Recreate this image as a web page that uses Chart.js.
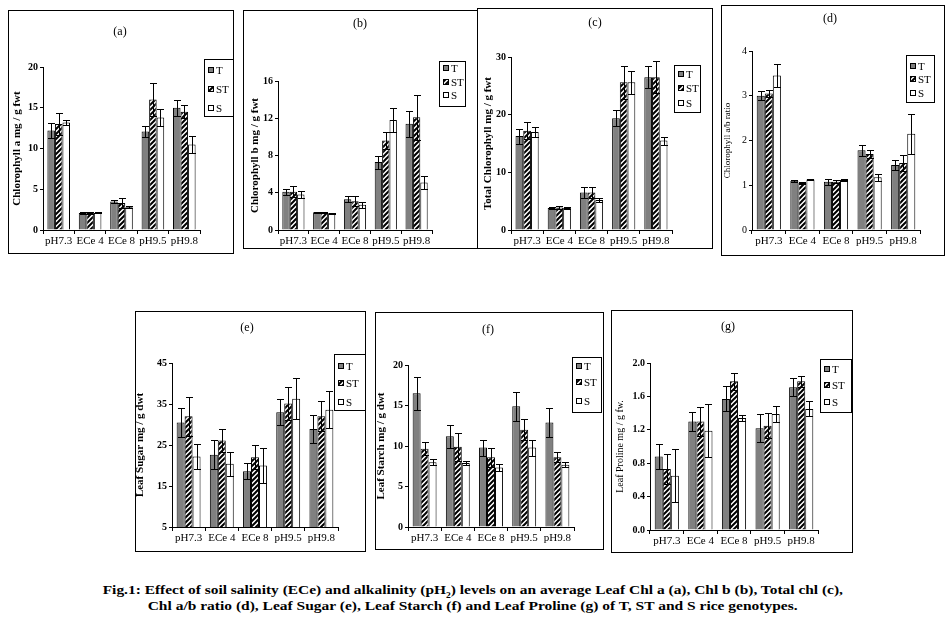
<!DOCTYPE html>
<html>
<head>
<meta charset="utf-8">
<script src="https://cdn.jsdelivr.net/npm/chart.js@4.4.1/dist/chart.umd.min.js"></script>
<style>
  body { margin: 0; background: #fff; width: 945px; height: 623px; position: relative; overflow: hidden; font-family: "Liberation Serif", serif; }
  .panel { position: absolute; border: 1px solid #000; box-sizing: border-box; }
  .panel canvas { position: absolute; left: 0; top: 0; }
  .cap { position: absolute; left: 0; width: 945px; text-align: center; font-weight: bold; font-size: 13px; white-space: nowrap; }
  .cap span { display: inline-block; transform-origin: center; }
</style>
</head>
<body>
<div class="cap" style="top:582px"><span id="cap1">Fig.1: Effect of soil salinity (ECe) and alkalinity (pH<sub style="font-size:8px">2</sub>) levels on an average Leaf Chl a (a), Chl b (b), Total chl (c),</span></div>
<div class="cap" style="top:598px"><span id="cap2">Chl a/b ratio (d), Leaf Sugar (e), Leaf Starch (f) and Leaf Proline (g) of T, ST and S rice genotypes.</span></div>
<script>
const groups = ['pH7.3', 'ECe 4', 'ECe 8', 'pH9.5', 'pH9.8'];
const genotypes = ['T', 'ST', 'S'];

// (a) chlorophyll a, mg / g fwt
const chlA_T = [12.2, 2.1, 3.5, 12.1, 15.0];
const chlA_ST = [13.0, 2.1, 3.3, 16.0, 14.5];
const chlA_S = [13.2, 2.1, 2.8, 13.8, 10.5];
const chlA_T_se = [0.9, 0.1, 0.2, 0.7, 1.0];
const chlA_ST_se = [1.3, 0.1, 0.6, 2.0, 0.8];
const chlA_S_se = [0.3, 0.05, 0.1, 1.0, 1.0];
const chlA_ticks = [0, 5, 10, 15, 20];

// (b) chlorophyll b
const chlB_T = [4.1, 1.9, 3.3, 7.3, 11.4];
const chlB_ST = [4.1, 1.9, 3.1, 9.6, 12.1];
const chlB_S = [3.8, 1.8, 2.7, 11.8, 5.1];
const chlB_T_se = [0.3, 0.05, 0.3, 0.7, 1.4];
const chlB_ST_se = [0.6, 0.05, 0.5, 0.9, 2.4];
const chlB_S_se = [0.4, 0.05, 0.3, 1.3, 0.7];
const chlB_ticks = [0, 4, 8, 12, 16];

// (c) total chlorophyll
const chlT_T = [16.3, 3.8, 6.5, 19.4, 26.5];
const chlT_ST = [17.2, 3.9, 6.5, 25.6, 26.5];
const chlT_S = [17.0, 3.8, 5.2, 25.6, 15.5];
const chlT_T_se = [1.3, 0.2, 0.9, 1.4, 1.9];
const chlT_ST_se = [1.5, 0.3, 0.9, 2.8, 2.8];
const chlT_S_se = [0.8, 0.2, 0.4, 2.0, 0.7];
const chlT_ticks = [0, 10, 20, 30];

// (d) chl a/b ratio
const ratio_T = [3.0, 1.1, 1.08, 1.78, 1.45];
const ratio_ST = [3.05, 1.05, 1.08, 1.7, 1.5];
const ratio_S = [3.45, 1.13, 1.12, 1.18, 2.15];
const ratio_T_se = [0.1, 0.02, 0.07, 0.12, 0.12];
const ratio_ST_se = [0.07, 0.03, 0.04, 0.08, 0.18];
const ratio_S_se = [0.25, 0.02, 0.03, 0.08, 0.45];
const ratio_ticks = [0, 1, 2, 3, 4];

// (e) leaf sugar, mg / g dwt
const sugar_T = [30.5, 22.6, 18.6, 33.0, 28.9];
const sugar_ST = [32.0, 26.1, 22.0, 35.1, 32.0];
const sugar_S = [22.2, 20.4, 20.0, 36.3, 33.6];
const sugar_T_se = [3.5, 3.5, 2.0, 3.2, 3.3];
const sugar_ST_se = [4.7, 2.9, 2.9, 4.0, 3.7];
const sugar_S_se = [3.1, 2.9, 4.3, 5.0, 4.5];
const sugar_ticks = [5, 15, 25, 35, 45];

// (f) leaf starch
const starch_T = [16.5, 11.2, 9.8, 14.9, 12.9];
const starch_ST = [9.65, 9.9, 8.6, 12.0, 8.6];
const starch_S = [8.0, 7.9, 7.35, 9.8, 7.7];
const starch_T_se = [2.0, 1.4, 1.0, 1.8, 1.8];
const starch_ST_se = [0.8, 1.7, 1.2, 1.3, 0.6];
const starch_S_se = [0.35, 0.3, 0.45, 1.0, 0.3];
const starch_ticks = [0, 5, 10, 15, 20];

// (g) leaf proline, mg / g fw
const proline_T = [0.88, 1.30, 1.57, 1.22, 1.71];
const proline_ST = [0.73, 1.30, 1.78, 1.25, 1.78];
const proline_S = [0.65, 1.19, 1.34, 1.39, 1.45];
const proline_T_se = [0.15, 0.11, 0.15, 0.17, 0.11];
const proline_ST_se = [0.18, 0.17, 0.1, 0.15, 0.07];
const proline_S_se = [0.32, 0.32, 0.04, 0.1, 0.09];
const proline_ticks = [0, 0.4, 0.8, 1.2, 1.6, 2.0];

Chart.defaults.font.family = '"Liberation Serif", serif';
Chart.defaults.color = '#000';

// diagonal hatch for the ST bars
function makeHatch() {
  const c = document.createElement('canvas');
  c.width = 5; c.height = 5;
  const x = c.getContext('2d');
  x.fillStyle = '#fff';
  x.fillRect(0, 0, 5, 5);
  x.strokeStyle = '#000';
  x.lineWidth = 2;
  x.beginPath();
  x.moveTo(-1, 6); x.lineTo(6, -1);
  x.moveTo(-1, 1); x.lineTo(1, -1);
  x.moveTo(4, 6); x.lineTo(6, 4);
  x.stroke();
  return x.createPattern(c, 'repeat');
}
const hatch = makeHatch();
const fills = ['#808080', hatch, '#fff'];

const errorBars = {
  id: 'errorBars',
  afterDatasetsDraw(chart) {
    const ctx = chart.ctx, ys = chart.scales.y;
    ctx.save();
    ctx.strokeStyle = '#000';
    ctx.lineWidth = 1;
    chart.data.datasets.forEach((ds, i) => {
      chart.getDatasetMeta(i).data.forEach((bar, j) => {
        const v = ds.data[j], e = ds.errors[j];
        const x = Math.round(bar.x) + 0.5;
        const top = Math.round(ys.getPixelForValue(v + e)) + 0.5;
        const bot = Math.round(ys.getPixelForValue(v - e)) + 0.5;
        ctx.beginPath();
        ctx.moveTo(x, top); ctx.lineTo(x, bot);
        ctx.moveTo(x - 3.5, top); ctx.lineTo(x + 3.5, top);
        ctx.moveTo(x - 3.5, bot); ctx.lineTo(x + 3.5, bot);
        ctx.stroke();
      });
    });
    ctx.restore();
  }
};

// panel letter and boxed legend
const decor = {
  id: 'decor',
  afterDraw(chart, args, o) {
    const ctx = chart.ctx;
    ctx.save();
    ctx.fillStyle = '#000';
    ctx.font = '12px "Liberation Serif"';
    ctx.textAlign = 'center';
    ctx.textBaseline = 'middle';
    ctx.fillText(o.title, o.titleX, o.titleY);
    const L = o.legend;
    ctx.strokeStyle = '#000';
    ctx.lineWidth = 1;
    ctx.strokeRect(Math.round(L.x) + 0.5, Math.round(L.y) + 0.5, L.w, L.h);
    ctx.font = '11px "Liberation Serif"';
    ctx.textAlign = 'left';
    chart.data.datasets.forEach((ds, i) => {
      const y = Math.round(L.items[i]);
      const sx = Math.round(L.x) + 4;
      ctx.fillStyle = ds.backgroundColor;
      ctx.fillRect(sx, y - 3, 5, 5);
      ctx.strokeRect(sx + 0.5, y - 2.5, 5, 5);
      ctx.fillStyle = '#000';
      ctx.fillText(ds.label, sx + 8, y + 1);
    });
    ctx.restore();
  }
};

function makePanel(p) {
  const box = p.box, plot = p.plot;
  const wrap = document.createElement('div');
  wrap.className = 'panel';
  wrap.style.left = box.x + 'px';
  wrap.style.top = box.y + 'px';
  wrap.style.width = box.w + 'px';
  wrap.style.height = box.h + 'px';
  if (box.noRight) wrap.style.borderRight = 'none';
  document.body.appendChild(wrap);
  const W = box.w - (box.noRight ? 1 : 2), H = box.h - 2;
  const ox = box.x + 1, oy = box.y + 1;
  const cv = document.createElement('canvas');
  cv.width = W; cv.height = H;
  cv.style.width = W + 'px'; cv.style.height = H + 'px';
  wrap.appendChild(cv);

  const datasets = genotypes.map((g, i) => ({
    label: g,
    data: p.series[i],
    errors: p.errs[i],
    backgroundColor: fills[i],
    borderColor: '#000',
    borderWidth: 1,
    categoryPercentage: 0.72,
    barPercentage: 1.0
  }));
  const tickBold = p.boldTicks ? 'bold' : 'normal';

  new Chart(cv, {
    type: 'bar',
    data: { labels: groups, datasets: datasets },
    options: {
      responsive: false,
      animation: false,
      events: [],
      layout: { padding: { left: 0, top: plot.t - oy, right: ox + W - plot.r, bottom: 0 } },
      scales: {
        x: {
          afterFit: s => { s.height = oy + H - plot.b; },
          grid: { drawOnChartArea: false, tickLength: 4, color: '#000', offset: true },
          border: { color: '#000' },
          ticks: { font: { size: 11 }, padding: 1, maxRotation: 0, autoSkip: false }
        },
        y: {
          min: p.ticks[0],
          max: p.ticks[p.ticks.length - 1],
          afterBuildTicks: s => { s.ticks = p.ticks.map(v => ({ value: v })); },
          afterFit: s => { s.width = plot.l - ox; },
          grid: { drawOnChartArea: false, tickLength: 3, color: '#000' },
          border: { color: '#000' },
          ticks: {
            font: { size: 10, weight: tickBold },
            padding: 2,
            callback: v => p.decimals ? v.toFixed(p.decimals) : v
          },
          title: {
            display: true,
            text: p.yTitle,
            font: { size: p.yTitleSize, weight: p.yTitleBold ? 'bold' : 'normal' },
            padding: { top: p.yTitleX - ox - p.yTitleSize * 0.6, bottom: 0 }
          }
        }
      },
      plugins: {
        legend: { display: false },
        tooltip: { enabled: false },
        decor: {
          title: p.title,
          titleX: p.titleXY[0] - ox,
          titleY: p.titleXY[1] - oy,
          legend: {
            x: p.legend.x - ox, y: p.legend.y - oy, w: p.legend.w, h: p.legend.h,
            items: p.legend.items.map(v => v - oy)
          }
        }
      }
    },
    plugins: [errorBars, decor]
  });
}

makePanel({
  title: '(a)', titleXY: [120, 32],
  box: { x: 8, y: 10, w: 226, h: 244 },
  plot: { l: 43, t: 67, r: 200, b: 230 },
  legend: { x: 204, y: 59, w: 29, h: 57, items: [70, 89, 108] },
  series: [chlA_T, chlA_ST, chlA_S], errs: [chlA_T_se, chlA_ST_se, chlA_S_se],
  ticks: chlA_ticks, boldTicks: true,
  yTitle: 'Chlorophyll a mg / g fwt', yTitleX: 17, yTitleSize: 11, yTitleBold: true
});
makePanel({
  title: '(b)', titleXY: [360, 24],
  box: { x: 243, y: 10, w: 234, h: 239, noRight: true },
  plot: { l: 278, t: 81, r: 432, b: 230 },
  legend: { x: 439, y: 61, w: 26, h: 45, items: [68, 82, 95] },
  series: [chlB_T, chlB_ST, chlB_S], errs: [chlB_T_se, chlB_ST_se, chlB_S_se],
  ticks: chlB_ticks, boldTicks: true,
  yTitle: 'Chlorophyll b mg / g fwt', yTitleX: 255, yTitleSize: 11, yTitleBold: true
});
makePanel({
  title: '(c)', titleXY: [595, 23],
  box: { x: 477, y: 8, w: 236, h: 241 },
  plot: { l: 511, t: 57, r: 672, b: 230 },
  legend: { x: 674, y: 65, w: 26, h: 47, items: [74, 88, 103] },
  series: [chlT_T, chlT_ST, chlT_S], errs: [chlT_T_se, chlT_ST_se, chlT_S_se],
  ticks: chlT_ticks, boldTicks: true,
  yTitle: 'Total Chlorophyll mg / g fwt', yTitleX: 488, yTitleSize: 11, yTitleBold: true
});
makePanel({
  title: '(d)', titleXY: [830, 19],
  box: { x: 721, y: 5, w: 224, h: 251 },
  plot: { l: 752, t: 51, r: 920, b: 230 },
  legend: { x: 906, y: 55, w: 28, h: 47, items: [66, 79, 93] },
  series: [ratio_T, ratio_ST, ratio_S], errs: [ratio_T_se, ratio_ST_se, ratio_S_se],
  ticks: ratio_ticks, boldTicks: false,
  yTitle: 'Chlorophyll a/b ratio', yTitleX: 728, yTitleSize: 9, yTitleBold: false
});
makePanel({
  title: '(e)', titleXY: [247, 328],
  box: { x: 135, y: 311, w: 231, h: 241 },
  plot: { l: 172, t: 363, r: 338, b: 527 },
  legend: { x: 334, y: 354, w: 31, h: 56, items: [366, 383, 402] },
  series: [sugar_T, sugar_ST, sugar_S], errs: [sugar_T_se, sugar_ST_se, sugar_S_se],
  ticks: sugar_ticks, boldTicks: true,
  yTitle: 'Leaf Sugar mg / g dwt', yTitleX: 140, yTitleSize: 11, yTitleBold: true
});
makePanel({
  title: '(f)', titleXY: [488, 330],
  box: { x: 375, y: 312, w: 229, h: 238 },
  plot: { l: 408, t: 365, r: 574, b: 527 },
  legend: { x: 572, y: 357, w: 29, h: 55, items: [366, 382, 401] },
  series: [starch_T, starch_ST, starch_S], errs: [starch_T_se, starch_ST_se, starch_S_se],
  ticks: starch_ticks, boldTicks: true,
  yTitle: 'Leaf Starch mg / g dwt', yTitleX: 381, yTitleSize: 11, yTitleBold: true
});
makePanel({
  title: '(g)', titleXY: [728, 327],
  box: { x: 611, y: 310, w: 242, h: 243 },
  plot: { l: 650, t: 363, r: 818, b: 530 },
  legend: { x: 820, y: 359, w: 31, h: 53, items: [369, 385, 402] },
  series: [proline_T, proline_ST, proline_S], errs: [proline_T_se, proline_ST_se, proline_S_se],
  ticks: proline_ticks, boldTicks: true, decimals: 1,
  yTitle: 'Leaf Proline mg / g fw.', yTitleX: 620, yTitleSize: 10, yTitleBold: false
});

// squeeze caption lines to the widths seen in the figure
[['cap1', 740], ['cap2', 650]].forEach(([id, target]) => {
  const el = document.getElementById(id);
  const w = el.getBoundingClientRect().width;
  el.style.transform = 'scaleX(' + (target / w).toFixed(3) + ')';
});
</script>
</body>
</html>
